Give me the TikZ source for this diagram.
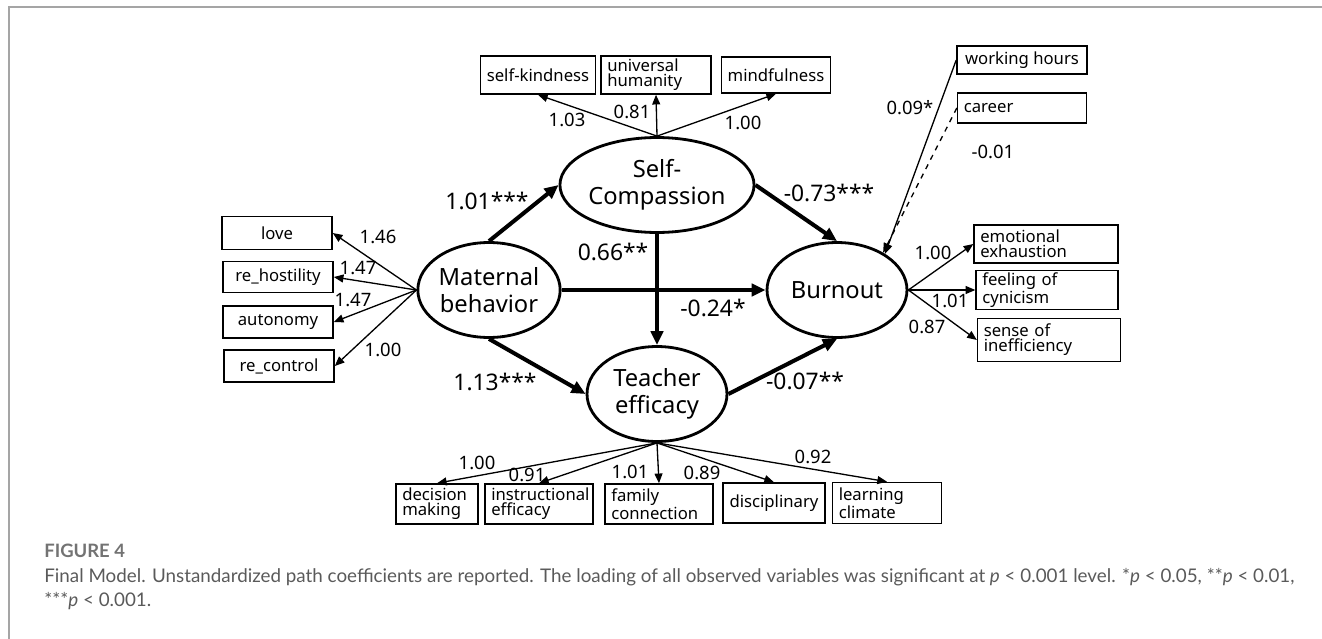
\documentclass[tikz,border=0pt]{standalone}
\usepackage{fontspec}
\setmainfont{Noto Sans}
\newfontfamily\capfont{Lato}
\usetikzlibrary{arrows.meta,shapes.geometric}
\definecolor{framegray}{RGB}{165,165,165}
\definecolor{capgray}{RGB}{90,90,90}

\begin{document}
\begin{tikzpicture}[x=0.02cm,y=-0.02cm,
  latent/.style={draw,ellipse,line width=1.6pt,minimum width=2.8cm,minimum height=1.9cm,
    inner sep=0pt,align=center,font=\fontsize{13.5}{15.5}\selectfont},
  obs/.style={draw,line width=0.9pt,inner xsep=3.5pt,inner ysep=0pt,minimum height=0.64cm,
    font=\fontsize{9.5}{8.6}\selectfont},
  obsl/.style={obs,align=left},
  obsc/.style={obs,align=center},
  load/.style={-{Triangle[length=5.5pt,width=4.5pt]},line width=0.75pt},
  struct/.style={-{Triangle[length=8pt,width=7pt]},line width=2.3pt},
  coef/.style={font=\fontsize{13}{14}\selectfont},
  ld/.style={font=\fontsize{10.5}{12}\selectfont}]
  \useasboundingbox (0,0) rectangle (1322,639);
  \draw[framegray,line width=0.8pt] (1322,7) -- (9,7) -- (9,639);

  % latent variables
  \node[latent] (mat) at (489,290) {Maternal\\behavior};
  \node[latent] (sc)  at (657,185) {Self-\\Compassion};
  \node[latent] (te)  at (657,394) {Teacher\\efficacy};
  \node[latent] (bo)  at (837,290) {Burnout};

  % observed variables
  \node[obsc,minimum width=2.2cm,minimum height=0.66cm] (love) at (277,233) {love};
  \node[obsc,minimum width=2.2cm,minimum height=0.62cm] (rh) at (278,277) {re\_hostility};
  \node[obsc,minimum width=2.2cm] (aut) at (278,322) {autonomy};
  \node[obsc,minimum width=2.2cm] (rc) at (279,366) {re\_control};

  \node[obsc,minimum width=2.2cm,minimum height=0.76cm] (sk) at (538,75) {self-kindness};
  \node[obsl,text width=1.95cm,minimum height=0.76cm] (uh) at (656,75) {universal\\humanity};
  \node[obsc,minimum width=2.16cm,minimum height=0.72cm] (mf) at (776,75) {mindfulness};

  \node[obsc,minimum width=2.6cm,minimum height=0.56cm] (wh) at (1022,60) {working hours};
  \node[obsl,text width=2.33cm,minimum height=0.6cm] (car) at (1022,108) {career};

  \node[obsl,text width=2.63cm,minimum height=0.76cm] (emo) at (1046,244) {emotional\\exhaustion};
  \node[obsl,text width=2.59cm,minimum height=0.78cm] (cyn) at (1047,290) {feeling of\\cynicism};
  \node[obsl,text width=2.61cm,minimum height=0.86cm] (ineff) at (1049,340) {sense of\\inefficiency};

  \node[obsl,text width=1.39cm,minimum height=0.8cm] (dm) at (437,504) {decision\\making};
  \node[obsl,text width=1.91cm,minimum height=0.8cm] (ie) at (539,504) {instructional\\efficacy};
  \node[obsl,text width=1.91cm,minimum height=0.8cm] (fc) at (659,504) {family\\connection};
  \node[obsc,minimum width=2.04cm,minimum height=0.8cm] (dis) at (774,503) {disciplinary};
  \node[obsl,text width=1.93cm,minimum height=0.82cm] (lc) at (887,503) {learning\\climate};

  % structural paths
  \draw[struct] (mat.north) -- (sc.west);
  \draw[struct] (mat.south) -- (te.west);
  \draw[struct] (mat.east) -- (bo.west);
  \draw[struct] (sc.south) -- (te.north);
  \draw[struct] (sc.east) -- (bo.north);
  \draw[struct] (te.east) -- (bo.south);

  % loadings
  \foreach \b in {love,rh,aut,rc} \draw[load] (mat.west) -- (\b.east);
  \foreach \b in {sk,uh,mf} \draw[load] (sc.north) -- (\b.south);
  \foreach \b in {emo,cyn,ineff} \draw[load] (bo.east) -- (\b.west);
  \foreach \b in {dm,ie,fc,dis,lc} \draw[load] (te.south) -- (\b.north);

  % covariates
  \draw[load] (wh.west) -- (bo.37);
  \draw[load,dashed] (car.west) -- (bo.39);

  % path coefficients
  \node[coef] (p1) at (487,201) {1.01***};
  \node[coef] (p2) at (829,193) {-0.73***};
  \node[coef] (p3) at (613,252) {0.66**};
  \node[coef] (p4) at (713,308) {-0.24*};
  \node[coef] (p5) at (495,382) {1.13***};
  \node[coef] (p6) at (805,381) {-0.07**};

  % loading values
  \node[ld] (l1) at (378,237) {1.46};
  \node[ld] (l2) at (358,268) {1.47};
  \node[ld] (l3) at (353,300) {1.47};
  \node[ld] (l4) at (383,350) {1.00};
  \node[ld] (l5) at (567,120) {1.03};
  \node[ld] (l6) at (632,112) {0.81};
  \node[ld] (l7) at (743,123) {1.00};
  \node[ld] (l8) at (910,108) {0.09*};
  \node[ld] (l9) at (993,152) {-0.01};
  \node[ld] (l10) at (933,253) {1.00};
  \node[ld] (l11) at (950,301) {1.01};
  \node[ld] (l12) at (927,327) {0.87};
  \node[ld] (l13) at (477,463) {1.00};
  \node[ld] (l14) at (527,475) {0.91};
  \node[ld] (l15) at (630,472) {1.01};
  \node[ld] (l16) at (702,473) {0.89};
  \node[ld] (l17) at (813,457) {0.92};

  % caption
  \node[anchor=base west,inner sep=0pt,text=capgray!85,font=\capfont\bfseries\fontsize{10.5}{12}\selectfont]
    (cap1) at (44,557) {FIGURE 4};
  \node[anchor=base west,inner sep=0pt,text=capgray,font=\capfont\fontsize{10.7}{13}\selectfont]
    (cap2) at (44,582) {Final Model. Unstandardized path coefficients are reported. The loading of all observed variables was significant at \textit{p} < 0.001 level. *\textit{p} < 0.05, **\textit{p} < 0.01,};
  \node[anchor=base west,inner sep=0pt,text=capgray,font=\capfont\fontsize{10.7}{13}\selectfont]
    (cap3) at (44,606) {***\textit{p} < 0.001.};
\end{tikzpicture}
\end{document}
